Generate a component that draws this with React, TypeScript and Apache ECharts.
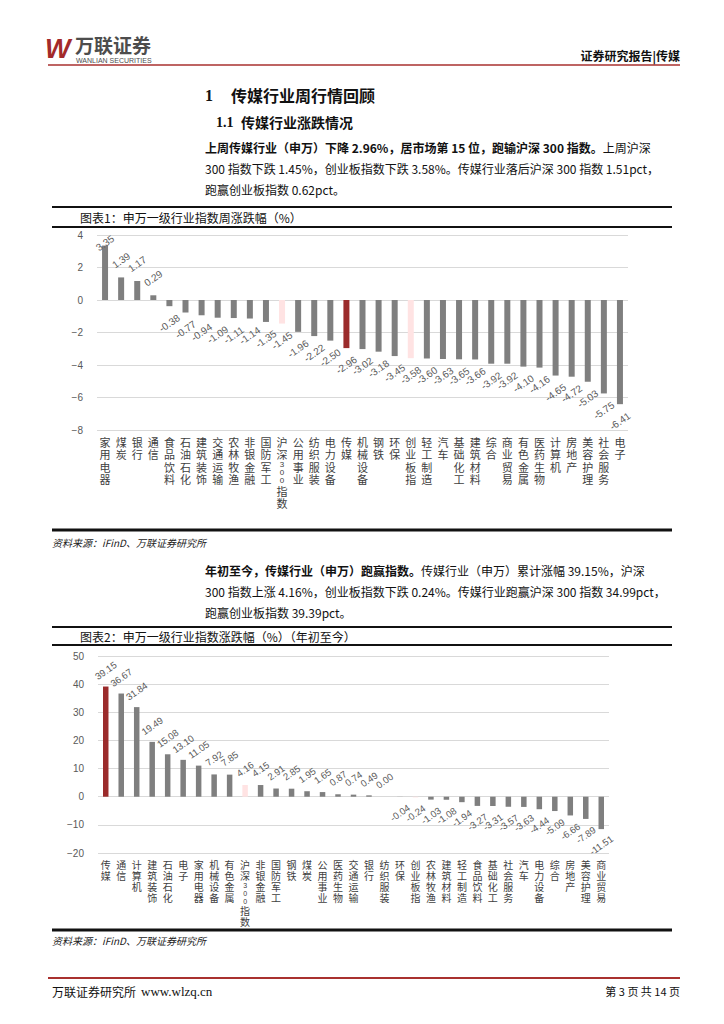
import React, { useEffect, useRef } from "react";
import * as echarts from "echarts";

// ---- Data ----
const weekCategories = [
  "家用电器", "煤炭", "银行", "通信", "食品饮料", "石油石化", "建筑装饰", "交通运输",
  "农林牧渔", "非银金融", "国防军工", "沪深300指数", "公用事业", "纺织服装", "电力设备",
  "传媒", "机械设备", "钢铁", "环保", "创业板指", "轻工制造", "汽车", "基础化工",
  "建筑材料", "综合", "商业贸易", "有色金属", "医药生物", "计算机", "房地产", "美容护理",
  "社会服务", "电子",
];
const weekValues = [
  3.35, 1.39, 1.17, 0.29, -0.38, -0.77, -0.94, -1.09, -1.11, -1.14, -1.35, -1.45, -1.96,
  -2.22, -2.5, -2.96, -3.02, -3.18, -3.45, -3.58, -3.6, -3.63, -3.65, -3.66, -3.92, -3.92,
  -4.1, -4.16, -4.65, -4.72, -5.03, -5.75, -6.41,
];
const ytdCategories = [
  "传媒", "通信", "计算机", "建筑装饰", "石油石化", "电子", "家用电器", "机械设备",
  "有色金属", "沪深300指数", "非银金融", "国防军工", "钢铁", "煤炭", "公用事业",
  "医药生物", "交通运输", "银行", "纺织服装", "环保", "创业板指", "农林牧渔", "建筑材料",
  "轻工制造", "食品饮料", "基础化工", "社会服务", "汽车", "电力设备", "综合", "房地产",
  "美容护理", "商业贸易",
];
const ytdValues = [
  39.15, 36.67, 31.84, 19.49, 15.08, 13.1, 11.05, 7.92, 7.85, 4.16, 4.15, 2.91, 2.85, 1.95,
  1.65, 0.87, 0.74, 0.49, 0.0, -0.04, -0.24, -1.03, -1.08, -1.94, -3.27, -3.31, -3.57, -3.63,
  -4.44, -5.09, -6.66, -7.89, -11.51,
];
const weekAxis = { min: -8, max: 4, interval: 2 };
const ytdAxis = { min: -20, max: 50, interval: 10 };
const focusName = "传媒";
const benchmarkNames = ["沪深300指数", "创业板指"];

const para1Bold = "上周传媒行业（申万）下降 2.96%，居市场第 15 位，跑输沪深 300 指数。";
const para1Lines = [
  "上周沪深",
  "300 指数下跌 1.45%，创业板指数下跌 3.58%。传媒行业落后沪深 300 指数 1.51pct，",
  "跑赢创业板指数 0.62pct。",
];
const para2Bold = "年初至今，传媒行业（申万）跑赢指数。";
const para2Lines = [
  "传媒行业（申万）累计涨幅 39.15%，沪深",
  "300 指数上涨 4.16%，创业板指数下跌 0.24%。传媒行业跑赢沪深 300 指数 34.99pct，",
  "跑赢创业板指数 39.39pct。",
];

// ---- Styles ----
const GRAY = "#7f7f7f";
const RED = "#9b2b2b";
const PINK = "#ffe3e3";
const CJK = "'Noto Sans CJK SC', 'Noto Sans', sans-serif";
const NUM = "'Liberation Sans', 'DejaVu Sans', sans-serif";

function barColor(name: string) {
  if (name === focusName) return RED;
  if (benchmarkNames.includes(name)) return PINK;
  return GRAY;
}

function verticalLabel(name: string) {
  const out: string[] = [];
  (name.match(/\d+|./g) || []).forEach((tok) => {
    if (/\d/.test(tok)) tok.split("").forEach((d) => out.push(`{d|${d}}`));
    else out.push(tok);
  });
  return out.join("\n");
}

// keeps a label inside the plot (like the original): distance shrinks near the top edge
function buildData(cats: string[], vals: number[], dist: number, axisMax: number, pxPerUnit: number) {
  return vals.map((v, i) => ({
    value: v,
    itemStyle: { color: barColor(cats[i]) },
    label: {
      position: v >= 0 ? "top" : "bottom",
      distance: v >= 0 ? Math.max(0, Math.min(dist, (axisMax - v) * pxPerUnit - 8)) : dist,
    },
  }));
}

function text(x: number, y: number, t: string, o: any = {}) {
  return {
    type: "text",
    x,
    y,
    silent: true,
    style: {
      text: t,
      fontSize: 12,
      fontFamily: CJK,
      fill: "#111",
      align: "left",
      verticalAlign: "middle",
      ...o,
    },
  };
}
function hline(y: number, x1: number, x2: number, stroke: string, lineWidth: number) {
  return { type: "line", silent: true, shape: { x1, y1: y, x2, y2: y }, style: { stroke, lineWidth } };
}

export default function App() {
  const ref = useRef<HTMLDivElement>(null);
  useEffect(() => {
    if (!ref.current) return;
    const chart = echarts.init(ref.current, undefined, { renderer: "svg" });
    const valueLabel = (size: number) => ({
      show: true,
      rotate: 35,
      align: "center",
      verticalAlign: "middle",
      fontSize: size,
      fontFamily: NUM,
      color: "#595959",
      formatter: (p: any) => Number(p.value).toFixed(2),
    });
    const catLabel = (size: number, lh: number, margin: number) => ({
      interval: 0,
      fontSize: size,
      lineHeight: lh,
      fontFamily: CJK,
      color: "#404040",
      margin,
      verticalAlign: "top",
      formatter: (v: string) => verticalLabel(v),
      rich: { d: { fontSize: size - 3, lineHeight: 8, fontFamily: NUM, color: "#404040" } },
    });
    const yLabel = (size: number) => ({
      fontSize: size,
      fontFamily: NUM,
      color: "#595959",
      margin: 14,
      formatter: (v: number) => String(v).replace("-", "−"),
    });
    const split = { show: true, lineStyle: { color: "#d9d9d9", width: 1 } };

    const g1Top = 235, g1Bottom = 430, g2Top = 656, g2Bottom = 853;
    const ppu1 = (g1Bottom - g1Top) / (weekAxis.max - weekAxis.min);
    const ppu2 = (g2Bottom - g2Top) / (ytdAxis.max - ytdAxis.min);

    chart.setOption({
      animation: false,
      backgroundColor: "#fff",
      grid: [
        { left: 97, right: 96, top: g1Top, bottom: 1024 - g1Bottom, containLabel: false },
        { left: 98, right: 115, top: g2Top, bottom: 1024 - g2Bottom, containLabel: false },
      ],
      xAxis: [
        {
          type: "category",
          gridIndex: 0,
          data: weekCategories,
          axisLine: { show: false },
          axisTick: { show: false },
          axisLabel: catLabel(11, 12.3, 6),
        },
        {
          type: "category",
          gridIndex: 1,
          data: ytdCategories,
          axisLine: { show: false },
          axisTick: { show: false },
          axisLabel: catLabel(10, 11, 6),
        },
      ],
      yAxis: [
        {
          type: "value",
          gridIndex: 0,
          ...weekAxis,
          axisLine: { show: false },
          axisTick: { show: false },
          splitLine: split,
          axisLabel: yLabel(10),
        },
        {
          type: "value",
          gridIndex: 1,
          ...ytdAxis,
          axisLine: { show: false },
          axisTick: { show: false },
          splitLine: split,
          axisLabel: yLabel(10),
        },
      ],
      series: [
        {
          type: "bar",
          xAxisIndex: 0,
          yAxisIndex: 0,
          barWidth: 6,
          data: buildData(weekCategories, weekValues, 17, weekAxis.max, ppu1),
          label: valueLabel(10),
        },
        {
          type: "bar",
          xAxisIndex: 1,
          yAxisIndex: 1,
          barWidth: 5.5,
          data: buildData(ytdCategories, ytdValues, 16, ytdAxis.max, ppu2),
          label: valueLabel(9.5),
        },
      ],
      graphic: {
        elements: [
          // header
          text(45, 49, "W", {
            fontSize: 27,
            fontFamily: "'Liberation Sans', sans-serif",
            fontWeight: "bold",
            fontStyle: "italic",
            fill: "#a32a2a",
          }),
          text(75, 44, "万联证券", { fontSize: 19, fontWeight: "bold", fill: "#4d4d4d" }),
          text(76, 60, "WANLIAN SECURITIES", {
            fontSize: 7,
            fontFamily: NUM,
            fill: "#4d4d4d",
          }),
          text(680, 55, "证券研究报告|传媒", { fontSize: 12, fontWeight: "bold", align: "right" }),
          hline(65, 48, 680, "#a9312f", 1.5),
          // headings
          text(205, 95, "1", { fontSize: 16, fontWeight: "bold", fontFamily: "'Liberation Serif', serif" }),
          text(231, 95, "传媒行业周行情回顾", { fontSize: 16, fontWeight: "bold" }),
          text(216, 122, "1.1", { fontSize: 14, fontWeight: "bold", fontFamily: "'Liberation Serif', serif" }),
          text(241, 122, "传媒行业涨跌情况", { fontSize: 14, fontWeight: "bold" }),
          // paragraph 1
          text(205, 147, `{b|${para1Bold}}${para1Lines[0]}`, {
            fontSize: 12,
            rich: { b: { fontSize: 12, fontWeight: "bold", fontFamily: CJK, fill: "#111" } },
          }),
          text(205, 168, para1Lines[1]),
          text(205, 189, para1Lines[2]),
          // chart 1 frame
          hline(207, 52, 672, "#111", 2),
          text(80, 217, "图表1：申万一级行业指数周涨跌幅（%）", { fontSize: 12 }),
          hline(227, 52, 672, "#111", 2),
          hline(530, 52, 672, "#111", 3),
          text(52, 542, "资料来源：iFinD、万联证券研究所", { fontSize: 10, fontStyle: "italic", fill: "#222" }),
          // paragraph 2
          text(205, 570, `{b|${para2Bold}}${para2Lines[0]}`, {
            fontSize: 12,
            rich: { b: { fontSize: 12, fontWeight: "bold", fontFamily: CJK, fill: "#111" } },
          }),
          text(205, 591, para2Lines[1]),
          text(205, 612, para2Lines[2]),
          // chart 2 frame
          hline(627, 52, 672, "#111", 2),
          text(80, 636, "图表2：申万一级行业指数涨跌幅（%）（年初至今）", { fontSize: 12 }),
          hline(645, 52, 672, "#111", 2),
          hline(930, 52, 672, "#111", 3),
          text(52, 940, "资料来源：iFinD、万联证券研究所", { fontSize: 10, fontStyle: "italic", fill: "#222" }),
          // footer
          hline(978, 48, 680, "#a9312f", 2),
          text(52, 991, "万联证券研究所", { fontSize: 12 }),
          text(141, 991, "www.wlzq.cn", { fontSize: 13, fontFamily: "'Liberation Serif', serif" }),
          text(680, 991, "第 3 页 共 14 页", { fontSize: 11, align: "right" }),
        ],
      },
    });
    return () => chart.dispose();
  }, []);
  return (
    <div
      ref={ref}
      style={{ position: "absolute", left: 0, top: 0, width: 724, height: 1024, background: "#fff" }}
    />
  );
}
